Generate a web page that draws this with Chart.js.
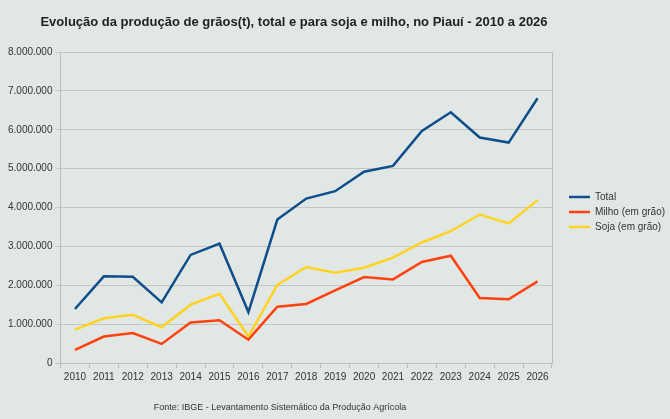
<!DOCTYPE html>
<html>
<head>
<meta charset="utf-8">
<script src="https://cdn.jsdelivr.net/npm/chart.js@4/dist/chart.umd.min.js"></script>
<style>
  html, body { margin: 0; padding: 0; background: #e0e7e5; }
  #wrap { width: 670px; height: 419px; }
</style>
</head>
<body>
<div id="wrap"><canvas id="graos"></canvas></div>
<script>
const anos = ['2010', '2011', '2012', '2013', '2014', '2015', '2016', '2017', '2018',
  '2019', '2020', '2021', '2022', '2023', '2024', '2025', '2026'];

// toneladas
const total = [1390000, 2230000, 2220000, 1560000, 2780000, 3070000, 1310000, 3690000, 4230000,
  4420000, 4920000, 5070000, 5970000, 6450000, 5800000, 5670000, 6810000];
const milho = [340000, 680000, 770000, 490000, 1040000, 1100000, 600000, 1450000, 1520000,
  1870000, 2210000, 2150000, 2600000, 2760000, 1670000, 1640000, 2100000];
const soja = [860000, 1150000, 1240000, 920000, 1500000, 1780000, 680000, 2010000, 2470000,
  2320000, 2450000, 2710000, 3100000, 3390000, 3820000, 3590000, 4190000];

const titulo = 'Evolução da produção de grãos(t), total e para soja e milho, no Piauí - 2010 a 2026';
const fonte = 'Fonte: IBGE - Levantamento Sistemático da Produção Agrícola';

function milhar(v) {
    return String(Math.round(v)).replace(/\B(?=(\d{3})+(?!\d))/g, '.');
}

// fundo, titulo e nota de rodape
const textos = {
    id: 'textos',
    beforeDraw(chart) {
        const ctx = chart.ctx;
        ctx.save();
        ctx.fillStyle = '#e0e7e5';
        ctx.fillRect(0, 0, chart.width, chart.height);
        ctx.restore();
    },
    afterLayout(chart) {
        // legenda um pouco acima do centro, como no original
        chart.legend.top -= 7;
        chart.legend.bottom -= 7;
    },
    afterDraw(chart) {
        const ctx = chart.ctx;
        ctx.save();
        ctx.fillStyle = '#222';
        ctx.textAlign = 'center';
        ctx.textBaseline = 'middle';
        ctx.font = 'bold 13px "Liberation Sans", Arial, sans-serif';
        ctx.fillText(titulo, 294, 22);
        ctx.font = '9px "Liberation Sans", Arial, sans-serif';
        ctx.fillStyle = '#333';
        ctx.fillText(fonte, 280, 408);
        ctx.restore();
    }
};

const fonteEixo = { family: '"Liberation Sans", Arial, sans-serif', size: 10 };

new Chart(document.getElementById('graos'), {
    type: 'line',
    data: {
        labels: anos,
        datasets: [
            { label: 'Total', data: total, borderColor: '#0f4e8b', backgroundColor: '#0f4e8b', borderWidth: 2.5 },
            { label: 'Milho (em grão)', data: milho, borderColor: '#ff420e', backgroundColor: '#ff420e', borderWidth: 2.5 },
            { label: 'Soja (em grão)', data: soja, borderColor: '#ffd320', backgroundColor: '#ffd320', borderWidth: 2.5 }
        ]
    },
    options: {
        responsive: true,
        maintainAspectRatio: false,
        animation: false,
        devicePixelRatio: 1,
        layout: { padding: { top: 52, left: 5, right: 2, bottom: 33 } },
        elements: {
            line: { tension: 0 },
            point: { radius: 0, pointStyle: 'line' }
        },
        scales: {
            x: {
                offset: true,
                grid: { offset: true, drawOnChartArea: false, color: '#b9bebe', tickLength: 5 },
                border: { color: '#b9bebe' },
                ticks: { color: '#333', font: fonteEixo, padding: 3, maxRotation: 0, autoSkip: false }
            },
            y: {
                min: 0,
                max: 8000000,
                grid: { color: '#c2c7c6', tickLength: 5 },
                border: { color: '#b9bebe' },
                ticks: { stepSize: 1000000, color: '#333', font: fonteEixo, padding: 3,
                    callback: (v) => milhar(v) }
            },
            y2: {
                display: true,
                position: 'right',
                min: 0,
                max: 8000000,
                grid: { display: false },
                border: { color: '#b9bebe' },
                ticks: { display: false },
                afterFit: (scale) => { scale.width = 12; }
            }
        },
        plugins: {
            title: { display: false },
            tooltip: { enabled: false },
            legend: {
                position: 'right',
                maxWidth: 104,
                labels: {
                    color: '#333',
                    font: fonteEixo,
                    usePointStyle: true,
                    pointStyleWidth: 21,
                    boxHeight: 10,
                    padding: 5
                }
            }
        }
    },
    plugins: [textos]
});
</script>
</body>
</html>
